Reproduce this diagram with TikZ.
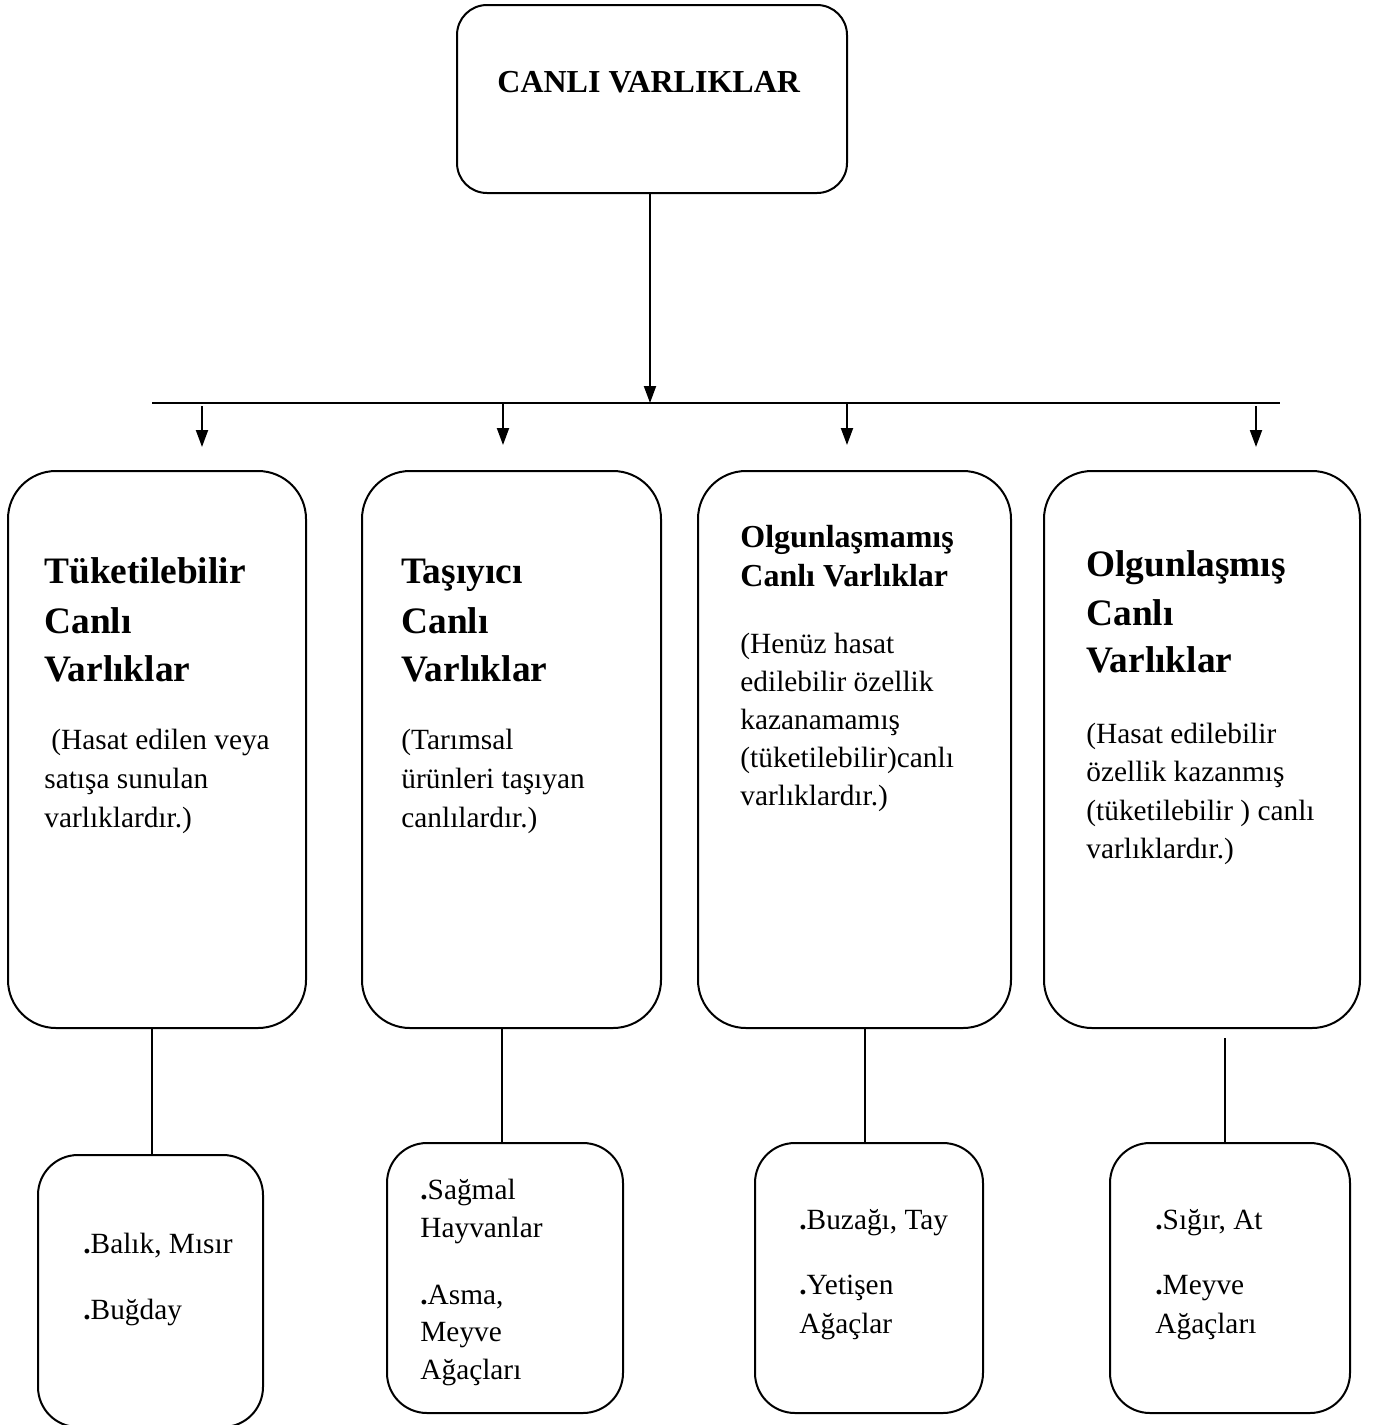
\documentclass[tikz,border=0pt]{standalone}
\usepackage{fontspec}
\setmainfont{Liberation Serif}
\usetikzlibrary{arrows.meta}
\begin{document}
\begin{tikzpicture}[x=0.5pt,y=-0.5pt,
  box/.style={draw,line width=1pt,rounded corners=#1,fill=white,inner sep=0pt},
  arr/.style={line width=1pt,-{Triangle[length=8.5pt,width=6pt]}},
  ln/.style={line width=1pt},
  tt/.style={anchor=base west,inner sep=0pt,font=\fontsize{16}{19}\selectfont\bfseries},
  hd/.style={anchor=base west,inner sep=0pt,font=\fontsize{18.67}{22}\selectfont\bfseries},
  hs/.style={anchor=base west,inner sep=0pt,font=\fontsize{16}{19}\selectfont\bfseries},
  bd/.style={anchor=base west,inner sep=0pt,font=\fontsize{14.67}{17}\selectfont}]
\useasboundingbox (0,0) rectangle (1373,1425);

% boxes
\node[box=15pt,minimum width=195pt,minimum height=94pt] (top) at (652,99) {};
\node[box=24pt,minimum width=149pt,minimum height=278.5pt] (m1) at (157,749.5) {};
\node[box=24pt,minimum width=149.5pt,minimum height=278.5pt] (m2) at (511.5,749.5) {};
\node[box=24pt,minimum width=156.5pt,minimum height=278.5pt] (m3) at (854.5,749.5) {};
\node[box=24pt,minimum width=158pt,minimum height=278.5pt] (m4) at (1202,749.5) {};
\node[box=20pt,minimum width=112.5pt,minimum height=136pt] (b1) at (150.5,1291) {};
\node[box=20pt,minimum width=118pt,minimum height=135pt] (b2) at (505,1278) {};
\node[box=20pt,minimum width=114pt,minimum height=135pt] (b3) at (869,1278) {};
\node[box=20pt,minimum width=120pt,minimum height=135pt] (b4) at (1230,1278) {};

% connectors
\coordinate (hub) at (650,403);
\coordinate (hl) at (152,403);
\coordinate (hr) at (1280,403);
\draw[arr] (top.south -| hub) -- (hub);
\draw[ln] (hl) -- (hr);
\coordinate (s1) at (202,406); \coordinate (e1) at (202,447);
\coordinate (s2) at (503,403); \coordinate (e2) at (503,445);
\coordinate (s3) at (847,403); \coordinate (e3) at (847,445);
\coordinate (s4) at (1256,406); \coordinate (e4) at (1256,447);
\draw[arr] (s1) -- (e1);
\draw[arr] (s2) -- (e2);
\draw[arr] (s3) -- (e3);
\draw[arr] (s4) -- (e4);
\coordinate (v1) at (152,1028);
\coordinate (v2) at (502,1028);
\coordinate (v3) at (865,1028);
\coordinate (v4) at (1225,1038);
\draw[ln] (v1) -- (v1 |- b1.north);
\draw[ln] (v2) -- (v2 |- b2.north);
\draw[ln] (v3) -- (v3 |- b3.north);
\draw[ln] (v4) -- (v4 |- b4.north);

% top text
\node[tt] (t0) at (497,92) {CANLI VARLIKLAR};

% box 1
\node[hd] (t11) at (44,583) {Tüketilebilir};
\node[hd] (t12) at (44,633) {Canlı};
\node[hd] (t13) at (44,681) {Varlıklar};
\node[bd] (t14) at (51,749) {(Hasat edilen veya};
\node[bd] (t15) at (44,788) {satışa sunulan};
\node[bd] (t16) at (44,827) {varlıklardır.)};

% box 2
\node[hd] (t21) at (401,583) {Taşıyıcı};
\node[hd] (t22) at (401,633) {Canlı};
\node[hd] (t23) at (401,681) {Varlıklar};
\node[bd] (t24) at (401,749) {(Tarımsal};
\node[bd] (t25) at (401,788) {ürünleri taşıyan};
\node[bd] (t26) at (401,827) {canlılardır.)};

% box 3
\node[hs] (t31) at (740,547) {Olgunlaşmamış};
\node[hs] (t32) at (740,586) {Canlı Varlıklar};
\node[bd] (t33) at (740,653) {(Henüz hasat};
\node[bd] (t34) at (740,691) {edilebilir özellik};
\node[bd] (t35) at (740,729) {kazanamamış};
\node[bd] (t36) at (740,767) {(tüketilebilir)canlı};
\node[bd] (t37) at (740,805) {varlıklardır.)};

% box 4
\node[hd] (t41) at (1086,576) {Olgunlaşmış};
\node[hd] (t42) at (1086,625) {Canlı};
\node[hd] (t43) at (1086,672) {Varlıklar};
\node[bd] (t44) at (1086,743) {(Hasat edilebilir};
\node[bd] (t45) at (1086,781) {özellik kazanmış};
\node[bd] (t46) at (1086,820) {(tüketilebilir ) canlı};
\node[bd] (t47) at (1086,858) {varlıklardır.)};

% bottom boxes
\node[bd] (u11) at (83,1253) {\textbf{.}Balık, Mısır};
\node[bd] (u12) at (83,1319) {\textbf{.}Buğday};

\node[bd] (u21) at (420,1199) {\textbf{.}Sağmal};
\node[bd] (u22) at (420,1237) {Hayvanlar};
\node[bd] (u23) at (420,1304) {\textbf{.}Asma,};
\node[bd] (u24) at (420,1341) {Meyve};
\node[bd] (u25) at (420,1379) {Ağaçları};

\node[bd] (u31) at (799,1229) {\textbf{.}Buzağı, Tay};
\node[bd] (u32) at (799,1294) {\textbf{.}Yetişen};
\node[bd] (u33) at (799,1333) {Ağaçlar};

\node[bd] (u41) at (1155,1229) {\textbf{.}Sığır, At};
\node[bd] (u42) at (1155,1294) {\textbf{.}Meyve};
\node[bd] (u43) at (1155,1333) {Ağaçları};
\end{tikzpicture}
\end{document}
